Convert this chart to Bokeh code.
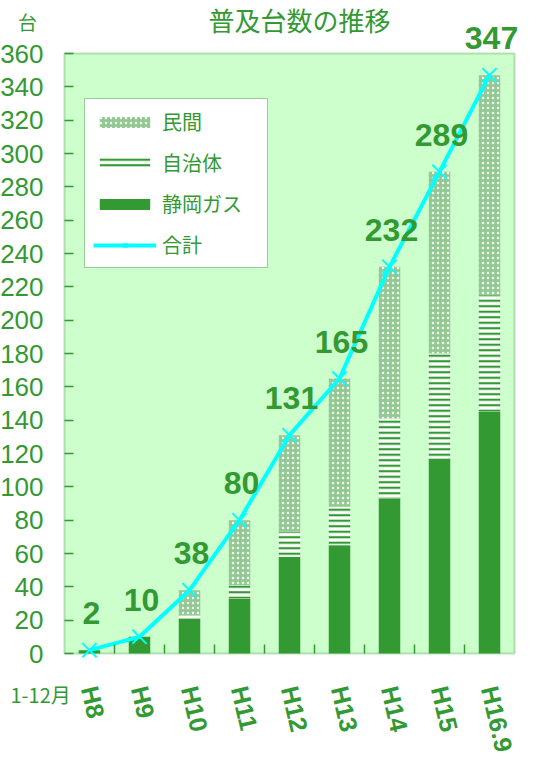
from bokeh.plotting import figure
from bokeh.models import (ColumnDataSource, FixedTicker, Legend, LegendItem, LabelSet, Label,
                          Range1d, BoxAnnotation)
from bokeh.core.properties import value
from bokeh.embed import file_html
from bokeh.resources import INLINE

# ---- data ----
categories = ["H8", "H9", "H10", "H11", "H12", "H13", "H14", "H15", "H16.9"]
gas = [2, 10, 21, 33, 58, 65, 93, 117, 145]          # 静岡ガス
jichitai = [0, 0, 2, 8, 15, 23, 48, 63, 70]          # 自治体
minkan = [0, 0, 15, 39, 58, 77, 91, 109, 132]        # 民間
total = [2, 10, 38, 80, 131, 165, 232, 289, 347]     # 合計
y_max = 360
y_ticks = list(range(0, y_max + 1, 20))

GREEN = "#339933"
BG = "#CCFFCC"
CYAN = "#00FFFF"
JP_FONT = "Noto Sans CJK JP"

# ---- layout (pixels) ----
W, H = 539, 760
PLOT_L, PLOT_R, PLOT_T, PLOT_B = 64, 514, 53, 653
ncat = len(categories)
cw = (PLOT_R - PLOT_L) / ncat          # px per category
pu = (PLOT_B - PLOT_T) / y_max         # px per unit

xs = [i + 0.5 for i in range(ncat)]
src = ColumnDataSource(dict(x=xs, gas=gas, jichitai=jichitai, minkan=minkan,
                            total=total, lbl=[str(t) for t in total]))

p = figure(width=W, height=H, output_backend="svg", toolbar_location=None,
           x_range=Range1d(-PLOT_L / cw, (W - PLOT_L) / cw),
           y_range=Range1d(-(H - PLOT_B) / pu, PLOT_B / pu),
           min_border=0)
p.background_fill_color = "white"
p.border_fill_color = "white"
p.outline_line_color = None
p.xgrid.visible = False
p.ygrid.visible = False

# plot area
p.add_layout(BoxAnnotation(left=0, right=ncat, bottom=0, top=y_max, fill_color=BG, fill_alpha=1,
                           line_color=GREEN, line_width=2, level="underlay"))

renderers = p.vbar_stack(["gas", "jichitai", "minkan"], x="x", width=0.43, source=src,
                         fill_color=[GREEN, "white", "#93C793"],
                         line_color=None,
                         hatch_pattern=[" ", "horizontal_line", "dot"],
                         hatch_color=[GREEN, GREEN, "#F0FAF0"],
                         hatch_scale=[6, 5.5, 5],
                         hatch_weight=[1, 2.2, 1.8])
r_gas, r_ji, r_min = renderers

r_line = p.line("x", "total", source=src, line_color=CYAN, line_width=4)
r_pts = p.scatter("x", "total", source=src, marker="x", size=20, line_color=CYAN, line_width=2)

# value labels
labels = LabelSet(x="x", y="total", text="lbl", source=src, y_offset=26, x_offset=2,
                  text_align="center", text_baseline="alphabetic",
                  text_font=value("Liberation Sans"), text_font_size="32px",
                  text_font_style="bold", text_color=GREEN)
p.add_layout(labels)

# axes
ya = p.yaxis[0]
ya.fixed_location = 0
ya.ticker = FixedTicker(ticks=y_ticks)
ya.axis_line_color = None
ya.major_tick_line_color = GREEN
ya.major_tick_line_width = 1.5
ya.major_tick_in = 9
ya.major_tick_out = 0
ya.minor_tick_line_color = None
ya.major_label_standoff = 21
ya.major_label_text_font = "Liberation Sans"
ya.major_label_text_font_size = "26px"
ya.major_label_text_color = GREEN

xa = p.xaxis[0]
xa.fixed_location = 0
xa.ticker = FixedTicker(ticks=xs, minor_ticks=list(range(1, ncat)))
xa.major_label_overrides = {x: c for x, c in zip(xs, categories)}
xa.axis_line_color = None
xa.major_tick_line_color = None
xa.minor_tick_line_color = GREEN
xa.minor_tick_line_width = 1.5
xa.minor_tick_in = 9
xa.minor_tick_out = 0
xa.major_label_orientation = -1.34
xa.major_label_standoff = 27
xa.major_label_text_font = "Arial"
xa.major_label_text_font_size = "25px"
xa.major_label_text_font_style = "bold"
xa.major_label_text_color = GREEN

# texts (screen units from bottom-left of canvas)
p.add_layout(Label(x=299, y=H - 19, x_units="screen", y_units="screen", text="普及台数の推移",
                   text_align="center", text_baseline="middle", text_font=JP_FONT,
                   text_font_size="26px", text_color=GREEN))
p.add_layout(Label(x=27, y=H - 21, x_units="screen", y_units="screen", text="台",
                   text_align="center", text_baseline="middle", text_font=JP_FONT,
                   text_font_size="19px", text_color=GREEN))
p.add_layout(Label(x=10, y=H - 694, x_units="screen", y_units="screen", text="1-12月",
                   text_align="left", text_baseline="middle", text_font=JP_FONT,
                   text_font_size="20px", text_color=GREEN))

legend = Legend(items=[
    LegendItem(label="民間", renderers=[r_min]),
    LegendItem(label="自治体", renderers=[r_ji]),
    LegendItem(label="静岡ガス", renderers=[r_gas]),
    LegendItem(label="合計", renderers=[r_line, r_pts]),
], location=(84, H - 268))
legend.background_fill_color = "white"
legend.background_fill_alpha = 1
legend.border_line_color = GREEN
legend.border_line_width = 1.5
legend.glyph_width = 63
legend.glyph_height = 14
legend.label_height = 20
legend.label_width = 97
legend.spacing = 12
legend.padding = 8
legend.margin = 0
legend.label_standoff = 6
legend.label_text_font = JP_FONT
legend.label_text_font_size = "20px"
legend.label_text_color = GREEN
legend.label_text_baseline = "middle"
p.add_layout(legend)

open("out.html", "w").write(file_html(p, INLINE))
